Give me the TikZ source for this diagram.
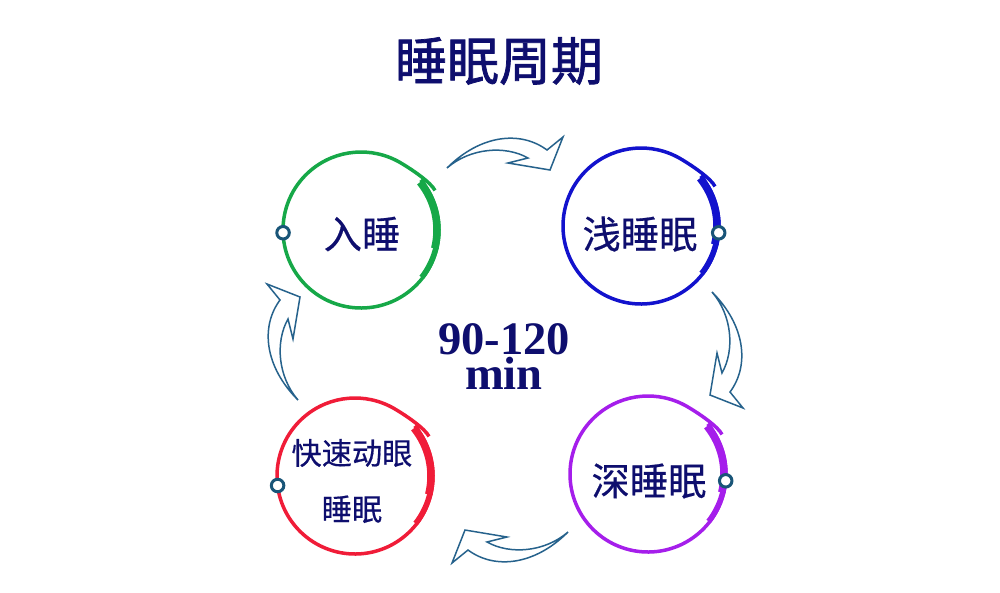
\documentclass[tikz,border=0pt]{standalone}
\usepackage{fontspec}
\newfontfamily\cjk[FakeBold=0.5]{Noto Sans CJK SC}
\newfontfamily\cjkhead[FakeBold=1.4]{Noto Sans CJK SC}
\newfontfamily\numserif{Liberation Serif}
\usetikzlibrary{positioning}

\definecolor{textnavy}{RGB}{14,14,110}
\definecolor{arrowblue}{RGB}{38,98,140}
\definecolor{dotteal}{RGB}{25,85,120}
\definecolor{ringgreen}{RGB}{22,168,72}
\definecolor{ringblue}{RGB}{18,18,205}
\definecolor{ringpurple}{RGB}{165,30,235}
\definecolor{ringred}{RGB}{240,28,56}

\tikzset{
  flowarrow/.style={draw=arrowblue, line width=0.3mm, fill=white, line join=miter},
  ringdot/.style={circle, draw=dotteal, fill=white, line width=0.6mm, inner sep=0pt, minimum size=2.5mm},
  stagetext/.style={text=textnavy, font=\cjk\fontsize{21.8}{26}\selectfont},
  cycletext/.style={text=textnavy, inner sep=0pt, font=\numserif\bfseries\fontsize{26.5}{30}\selectfont}
}

\begin{document}
\begin{tikzpicture}[x=0.2mm,y=-0.2mm]
\fill[white] (0,0) rectangle (1000,592);
\useasboundingbox (0,0) rectangle (1000,592);

\node (title) at (499,61) [text=textnavy, font=\cjkhead\fontsize{29.6}{34}\selectfont] {睡眠周期};

% hollow arrows between the stages
\foreach \ax/\ay/\rot in {505/152/0, 728/350/-90, 510/548/180, 282/342/90} {
\draw[flowarrow, shift={(\ax,\ay)}, rotate=\rot] (-58,16) .. controls (-25,-17) and (15,-22) .. (42,-2) -- (58,-15) -- (45,18) -- (3,11) -- (23,6) .. controls (0,-7) and (-35,-4) .. cycle;
}

% brush rings
\foreach \cx/\cy/\col/\dotang [count=\i] in {361/230/ringgreen/178, 641/226/ringblue/5, 648/474/ringpurple/5, 355/476/ringred/173} {
\coordinate (ring\i) at (\cx,\cy);
\draw[\col, line width=0.7mm] (ring\i) ++(-40:78) arc[start angle=-40, end angle=300, radius=78] .. controls +(12,7) and +(-4,-8) .. ++(35,28);
\draw[\col, line width=1.5mm] (ring\i) ++(-39:76) arc[start angle=-39, end angle=14, radius=76];
\draw[\col, line width=1.1mm] (ring\i) ++(12:77) arc[start angle=12, end angle=38, radius=77];
\path (ring\i) ++(\dotang:78) node[ringdot] (dot\i) {};
}

\node (stage1) at (362,234) [stagetext] {入睡};
\node (stage2) at (640,234) [stagetext] {浅睡眠};
\node (stage3) at (649,481) [stagetext] {深睡眠};
\node (stage4) at (352,481) [stagetext, font=\cjk\fontsize{17.2}{31.9}\selectfont, align=center] {快速动眼\\睡眠};

\node (cycle) at (504,339) [cycletext] {90-120};
\node (unit) [cycletext, below=0.3mm of cycle] {min};
\end{tikzpicture}
\end{document}
